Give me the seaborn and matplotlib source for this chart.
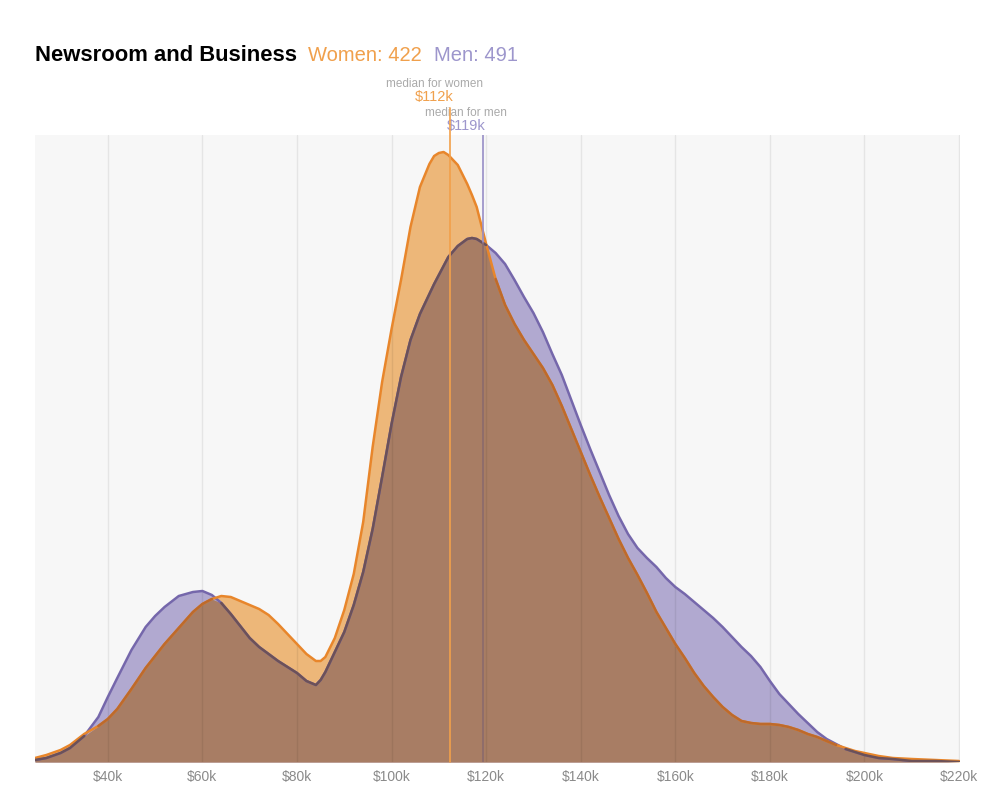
import numpy as np
import seaborn as sns
import matplotlib.pyplot as plt
from matplotlib.transforms import blended_transform_factory

# salary in $k and density (arbitrary units, plot top = 627)
salary_k = [24.6, 27, 30, 32, 35, 38, 40, 42, 45, 48, 50, 52, 55, 58, 60, 62, 64, 66, 68, 70,
            72, 74, 76, 78, 80, 82, 84, 85, 86, 88, 90, 92, 94, 96, 98, 100, 102, 104, 106, 108,
            109, 110, 111, 112, 114, 116, 117, 118, 120, 122, 124, 126, 128, 130, 132, 134, 136, 138,
            140, 142, 144, 146, 148, 150, 152, 154, 156, 158, 160, 162, 164, 166, 168, 170,
            172, 174, 176, 178, 180, 182, 184, 186, 188, 190, 192, 194, 196, 198, 200,
            203, 206, 210, 215, 220]
women = [4, 7, 12, 17, 28, 36, 43, 53, 73, 94, 106, 118, 134, 150, 158, 163, 166, 165, 161, 157,
         153, 147, 138, 128, 118, 108, 101, 101, 105, 124, 152, 188, 240, 315, 380, 433, 482, 535, 575, 598,
         606, 609, 610, 607, 597, 578, 567, 555, 518, 483, 457, 438, 422, 408, 394, 377, 356, 333,
         310, 287, 265, 244, 223, 204, 187, 169, 150, 134, 118, 104, 89, 76, 65, 55,
         47, 41, 39, 38, 38, 37, 35, 32, 28, 25, 21, 17, 14, 11, 9,
         6, 4, 3, 2, 1]
men = [2, 4, 9, 14, 26, 45, 65, 84, 112, 135, 146, 155, 166, 170, 171, 167, 159, 148, 136, 124,
       115, 108, 101, 95, 89, 81, 77, 82, 90, 110, 130, 157, 190, 233, 285, 338, 385, 422, 448, 468,
       478, 487, 496, 505, 516, 523, 524, 523, 517, 509, 498, 482, 465, 449, 430, 408, 387, 362,
       337, 313, 290, 267, 246, 228, 214, 204, 195, 184, 175, 168, 160, 152, 144, 135,
       125, 115, 106, 95, 81, 68, 58, 48, 39, 30, 23, 18, 13, 10, 7,
       4, 3, 1, 1, 0]

median_women = 112.4
median_men = 119.4
n_women = 422
n_men = 491
ticks = list(range(40, 221, 20))
tick_labels = ["\\$%dk" % t for t in ticks]

ORANGE_FILL = '#edb779'
PURPLE_FILL = '#b1a9d0'
BROWN = '#a87d64'
ORANGE_LINE = '#e8862b'
ORANGE_DARK = '#bd6a2c'
PURPLE_LINE = '#7567ab'
PURPLE_DARK = '#6c5158'
ORANGE_TXT = '#f0a04c'
PURPLE_TXT = '#9d96cc'


def main():
  sns.set_theme(style='white')
  plt.rcParams['font.family'] = ['Liberation Sans', 'DejaVu Sans']

  W, H = 1006, 800
  fig = plt.figure(figsize=(W / 100, H / 100), dpi=100)
  ax = fig.add_axes([35 / W, 38 / H, 925 / W, 627 / H])
  ax.set_facecolor('#f7f7f7')

  x = np.array(salary_k)
  w = np.array(women, dtype=float)
  m = np.array(men, dtype=float)
  both = np.minimum(w, m)

  ax.fill_between(x, 0, w, color=ORANGE_FILL, lw=0, zorder=1)
  ax.fill_between(x, 0, m, color=PURPLE_FILL, lw=0, zorder=1)
  ax.fill_between(x, 0, both, color=BROWN, lw=0, zorder=2)

  for t in ticks:
    ax.axvline(t, color='black', alpha=0.07, lw=1, zorder=3)

  # outlines, darker where they run inside the other group's area
  sns.lineplot(x=x, y=m, ax=ax, color=PURPLE_LINE, lw=1.8, zorder=5, estimator=None, sort=False)
  sns.lineplot(x=x, y=w, ax=ax, color=ORANGE_LINE, lw=1.8, zorder=5, estimator=None, sort=False)
  ax.plot(x, np.where(m <= w, m, np.nan), color=PURPLE_DARK, lw=1.8, zorder=6)
  ax.plot(x, np.where(w < m, w, np.nan), color=ORANGE_DARK, lw=1.8, zorder=6)

  # medians
  tr = blended_transform_factory(ax.transData, ax.transAxes)
  ax.plot([median_women, median_women], [0, 1.043], transform=tr, color='#f2a04a',
          lw=1.2, zorder=7, clip_on=False)
  m_at = np.interp(median_men, x, m)
  ax.plot([median_men, median_men], [m_at, 627], color='#978ec6', lw=1.2, zorder=7)
  ax.plot([median_men, median_men], [0, m_at], color='#8a6a6c', lw=1.2, zorder=7)

  ftr = blended_transform_factory(ax.transData, fig.transFigure)
  ax.text(median_women - 3.4, 1 - 87 / H, 'median for women', transform=ftr, ha='center',
          va='baseline', fontsize=8.5, color='#aaaaaa')
  ax.text(median_women - 3.4, 1 - 101 / H, '\\$%dk' % round(median_women), transform=ftr,
          ha='center', va='baseline', fontsize=10.5, color=ORANGE_TXT)
  ax.text(median_men - 3.6, 1 - 116 / H, 'median for men', transform=ftr, ha='center',
          va='baseline', fontsize=8.5, color='#aaaaaa')
  ax.text(median_men - 3.6, 1 - 130 / H, '\\$%dk' % round(median_men), transform=ftr,
          ha='center', va='baseline', fontsize=10.5, color=PURPLE_TXT)

  ax.set_xlim(24.6, 220.2)
  ax.set_ylim(0, 627)
  ax.set_xticks(ticks)
  ax.set_xticklabels(tick_labels)
  ax.set_yticks([])
  ax.set_xlabel('')
  ax.set_ylabel('')
  ax.tick_params(axis='x', length=0, pad=6, labelsize=10, labelcolor='#8a8a8a')
  for s in ax.spines.values():
    s.set_visible(False)

  # title row
  r = fig.canvas.get_renderer()
  t1 = fig.text(35 / W, 1 - 61 / H, 'Newsroom and Business', fontsize=15.8,
                fontweight='bold', color='black', va='baseline')
  x1 = t1.get_window_extent(r).x1
  t2 = fig.text((x1 + 11) / W, 1 - 61 / H, 'Women: %d' % n_women, fontsize=14.5,
                color=ORANGE_TXT, va='baseline')
  x2 = t2.get_window_extent(r).x1
  fig.text((x2 + 12) / W, 1 - 61 / H, 'Men: %d' % n_men, fontsize=14.5,
           color=PURPLE_TXT, va='baseline')

  fig.savefig('out.png', dpi=100, facecolor='white')


if __name__ == '__main__':
  main()
